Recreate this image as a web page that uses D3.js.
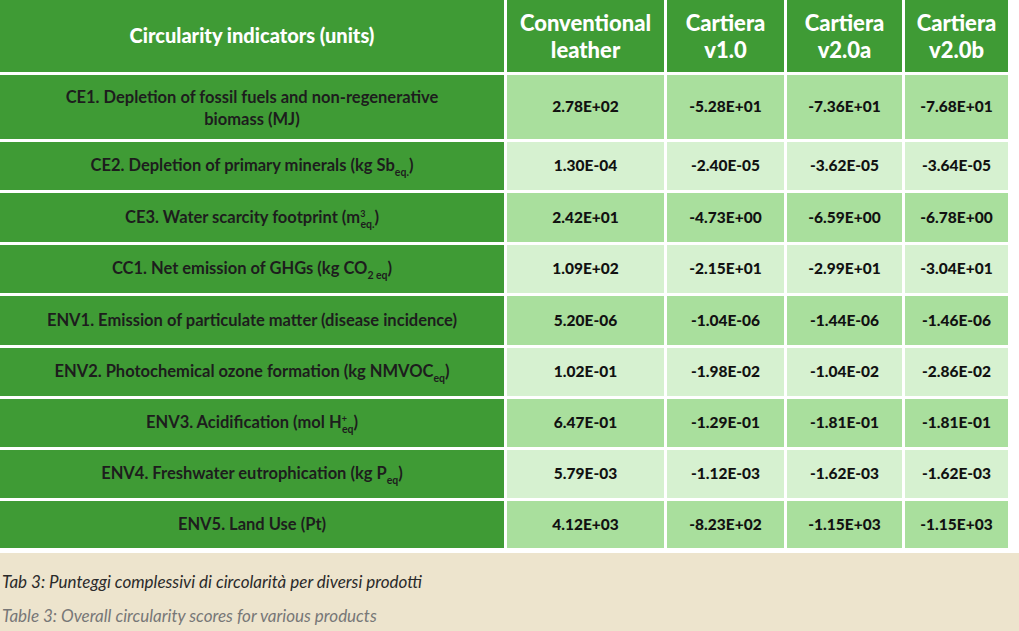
<!DOCTYPE html>
<html lang="en">
<head>
<meta charset="UTF-8">
<script src="https://d3js.org/d3.v7.min.js"></script>
<style>
  body { margin: 0; background: #fff; }
  svg { display: block; font-family: Lato, "Open Sans", sans-serif; }
</style>
</head>
<body>
<div id="tbl"></div>
<script>
// Data
const columns = ['Conventional leather', 'Cartiera v1.0', 'Cartiera v2.0a', 'Cartiera v2.0b'];
const indicators = [
  [{t: 'CE1. Depletion of fossil fuels and non-regenerative'}, {t: 'biomass (MJ)', line: 2}],
  [{t: 'CE2. Depletion of primary minerals (kg Sb'}, {t: 'eq.', sub: true}, {t: ')'}],
  [{t: 'CE3. Water scarcity footprint (m'}, {t: '3', sup: true}, {t: 'eq.', sub: true}, {t: ')'}],
  [{t: 'CC1. Net emission of GHGs (kg CO'}, {t: '2 eq', sub: true}, {t: ')'}],
  [{t: 'ENV1. Emission of particulate matter (disease incidence)'}],
  [{t: 'ENV2. Photochemical ozone formation (kg NMVOC'}, {t: 'eq', sub: true}, {t: ')'}],
  [{t: 'ENV3. Acidification (mol H'}, {t: '+', sup: true}, {t: 'eq', sub: true}, {t: ')'}],
  [{t: 'ENV4. Freshwater eutrophication (kg P'}, {t: 'eq', sub: true}, {t: ')'}],
  [{t: 'ENV5. Land Use (Pt)'}]
];
const conventional = ['2.78E+02', '1.30E-04', '2.42E+01', '1.09E+02', '5.20E-06', '1.02E-01', '6.47E-01', '5.79E-03', '4.12E+03'];
const cartieraV10 = ['-5.28E+01', '-2.40E-05', '-4.73E+00', '-2.15E+01', '-1.04E-06', '-1.98E-02', '-1.29E-01', '-1.12E-03', '-8.23E+02'];
const cartieraV20a = ['-7.36E+01', '-3.62E-05', '-6.59E+00', '-2.99E+01', '-1.44E-06', '-1.04E-02', '-1.81E-01', '-1.62E-03', '-1.15E+03'];
const cartieraV20b = ['-7.68E+01', '-3.64E-05', '-6.78E+00', '-3.04E+01', '-1.46E-06', '-2.86E-02', '-1.81E-01', '-1.62E-03', '-1.15E+03'];
const series = [conventional, cartieraV10, cartieraV20a, cartieraV20b];
const captionIt = 'Tab 3: Punteggi complessivi di circolarità per diversi prodotti';
const captionEn = 'Table 3: Overall circularity scores for various products';

// Layout
const width = 1019, height = 631;
const gap = 3;
const colEdges = [0, 507, 667, 787, 905, 1011];
const rowHeights = [75, 67, 51, 52, 51, 52, 51, 51, 51, 50];
const rowEdges = rowHeights.reduce((a, h) => (a.push(a[a.length - 1] + h), a), [0]);
const tableBottom = rowEdges[rowEdges.length - 1] + 2;

const dark = '#3f9b35', mid = '#a9df9d', light = '#d6f1d0';

const svg = d3.select('#tbl').append('svg').attr('width', width).attr('height', height);

svg.append('rect').attr('y', tableBottom).attr('width', width).attr('height', height - tableBottom).attr('fill', '#ede4cd');

const colIds = d3.range(5);
const rowIds = d3.range(10);
const x0 = d3.scaleOrdinal().domain(colIds).range(colEdges.slice(0, 5));
const x1 = d3.scaleOrdinal().domain(colIds).range(colEdges.slice(1));
const y0 = d3.scaleOrdinal().domain(rowIds).range(rowEdges.slice(0, 10));
const y1 = d3.scaleOrdinal().domain(rowIds).range(rowEdges.slice(1));
const cx = c => (x0(c) + x1(c) - gap) / 2;
const cy = r => (y0(r) + y1(r) - gap) / 2;

const cells = [];
rowIds.forEach(r => colIds.forEach(c => cells.push({r, c})));
svg.append('g').selectAll('rect').data(cells).join('rect')
  .attr('x', d => x0(d.c))
  .attr('y', d => y0(d.r))
  .attr('width', d => x1(d.c) - x0(d.c) - gap)
  .attr('height', d => y1(d.r) - y0(d.r) - gap)
  .attr('fill', d => (d.r === 0 || d.c === 0) ? dark : (d.r % 2 === 1 ? mid : light));

// Header
const hdr = svg.append('g').attr('fill', '#fff').attr('font-weight', 900).attr('text-anchor', 'middle');
hdr.append('text').attr('x', cx(0)).attr('y', cy(0) + 7).attr('font-size', 20).text('Circularity indicators (units)');
columns.forEach((name, i) => {
  const words = name.split(' ');
  const t = hdr.append('text').attr('x', cx(i + 1)).attr('font-size', 22);
  words.forEach((w, j) => t.append('tspan').attr('x', cx(i + 1)).attr('y', cy(0) - 5 + j * 27).text(w));
});

// Row labels
indicators.forEach((parts, i) => {
  const r = i + 1;
  const twoLine = parts.some(p => p.line);
  const t = svg.append('text').attr('text-anchor', 'middle').attr('font-size', 16.5)
    .attr('font-weight', 700).attr('fill', '#1d1d1d')
    .attr('x', cx(0)).attr('y', twoLine ? cy(r) - 4 : cy(r) + 5);
  let prevSup = false;
  parts.forEach((p, k) => {
    const s = t.append('tspan').text(p.t);
    if (p.line) s.attr('x', cx(0)).attr('dy', 22);
    else if (p.sup) { s.attr('font-size', 9).attr('dy', -6); prevSup = true; }
    else if (p.sub) { s.attr('font-size', 10.5).attr('dy', prevSup ? 11 : 5); if (prevSup) s.attr('dx', -5); }
    else if (k > 0) s.attr('dy', -5);
  });
});

// Values
series.forEach((vals, c) => {
  svg.append('g').selectAll('text').data(vals).join('text')
    .attr('x', cx(c + 1))
    .attr('y', (d, i) => cy(i + 1) + 5)
    .attr('text-anchor', 'middle').attr('font-size', 15.5).attr('font-weight', 900)
    .attr('fill', '#111').text(d => d);
});

// Captions
svg.append('text').attr('x', 2).attr('y', 588).attr('font-size', 17).attr('font-style', 'italic')
  .attr('fill', '#2a2a2a').text(captionIt);
svg.append('text').attr('x', 2).attr('y', 622).attr('font-size', 17).attr('font-style', 'italic')
  .attr('fill', '#777').text(captionEn);
</script>
</body>
</html>
